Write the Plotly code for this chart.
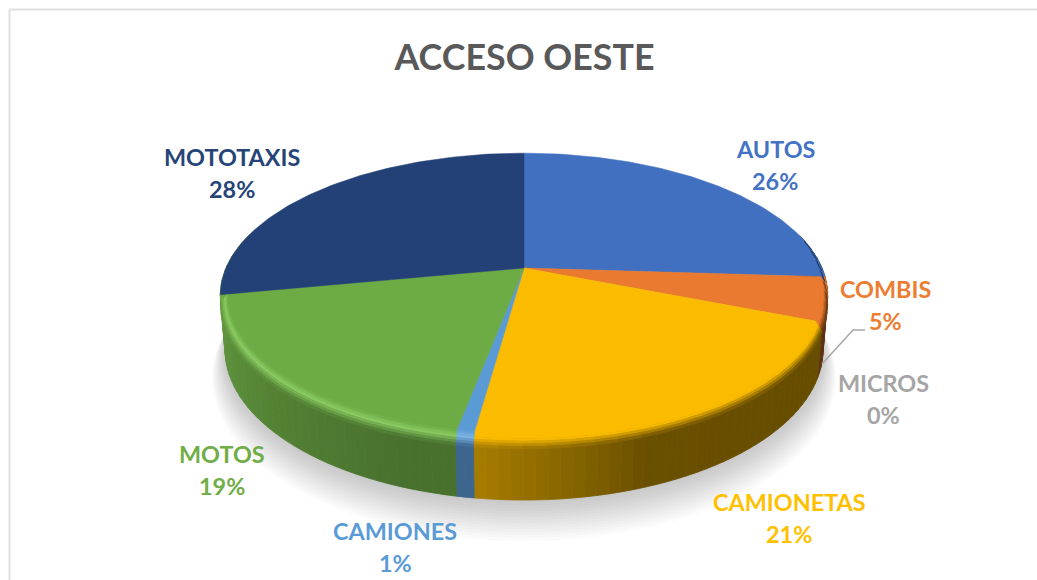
import numpy as np
import plotly.graph_objects as go

# ---- data ----
TITLE = "ACCESO OESTE"
categories = ["AUTOS", "COMBIS", "MICROS", "CAMIONETAS", "CAMIONES", "MOTOS", "MOTOTAXIS"]
values = [26, 5, 0, 21.2, 0.8, 19, 28]

# ---- styles ----
face_colors = ["#4270C0", "#E97A30", "#A5A5A5", "#FBBC00", "#5B9BD5", "#6DAB45", "#234176"]
label_colors = ["#4472C4", "#ED7D31", "#A5A5A5", "#FFC000", "#5B9BD5", "#70AD47", "#264478"]
rim_colors = ["#4270C0", "#E97A30", "#A5A5A5", "#FBBC00", "#7DB5E6", "#8ACB62", "#2B4C86"]
label_pos = {"AUTOS": (775, 165), "COMBIS": (885, 305), "MICROS": (883, 399),
             "CAMIONETAS": (789, 518), "CAMIONES": (395, 547), "MOTOS": (222, 470),
             "MOTOTAXIS": (232, 173)}
FONT = "Lato"
CX, CY, A, B, K = 524.0, 268.0, 298.0, 137.0, 0.193   # projection of the pie disc
WALL_H = 53.0
shade_t = [0, 90, 160, 187, 200, 259, 275, 360]
shade_f = [.5, .40, .42, .66, .66, .88, .85, .5]


def project(r, t, z=0.0, scale=1.0):
    t = np.radians(t)
    X, Y = r * np.sin(t) * scale, r * np.cos(t) * scale
    w = 1 + K * Y
    return CX + A * X / w, CY - B * Y / w + z / w


def rgb(h):
    return np.array([int(h[i:i + 2], 16) for i in (1, 3, 5)], float)


def hexc(c):
    return "#%02x%02x%02x" % tuple(int(round(v)) for v in np.clip(c, 0, 255))


def poly(fig, x, y, color, line=0.8):
    fig.add_trace(go.Scatter(x=list(x) + [x[0]], y=list(y) + [y[0]], mode="lines", fill="toself",
                             fillcolor=color, line=dict(color=color, width=line),
                             hoverinfo="skip", showlegend=False))


fig = go.Figure()
edges = np.concatenate([[0], np.cumsum(values)]) / sum(values) * 360.0

# soft shadow below the disc
ring = np.arange(0, 361, 4.0)
for i in range(14):
    g = 1.0 + 0.0032 * (13 - i)
    x, y = project(1.0, ring, WALL_H + 2 + 1.8 * (13 - i), scale=g * 0.985)
    poly(fig, x, y, "rgba(70,70,70,0.022)", line=0)

# side wall, painted as narrow strips (the far-left sliver keeps the colour of the slice in front)
STEP = 2.0
for j, v in enumerate(values):
    if v == 0:
        continue
    t0, t1 = edges[j], edges[j + 1]
    n = max(1, int(np.ceil((t1 - t0) / STEP)))
    ts = np.linspace(t0, t1, n + 1)
    wall_j = j - 1 if categories[j] == "MOTOTAXIS" else j
    for a, b in zip(ts[:-1], ts[1:]):
        m = (a + b) / 2
        if np.cos(np.radians(m)) > 0.25:
            continue
        col = rgb(face_colors[wall_j]) * np.interp(m, shade_t, shade_f)
        xt, yt = project(1.0, np.array([a, b]))
        xb, yb = project(1.0, np.array([b, a]), WALL_H, scale=0.985)
        poly(fig, list(xt) + list(xb), list(yt) + list(yb), hexc(col))

# top face wedges
for j, v in enumerate(values):
    if v == 0:
        continue
    ts = np.linspace(edges[j], edges[j + 1], max(3, int(edges[j + 1] - edges[j]) + 2))
    x, y = project(1.0, ts)
    poly(fig, [CX] + list(x), [CY] + list(y), face_colors[j], line=0.5)

# bevelled rim on the near side
BANDS = 6
STEP_R = 4.0
for j, v in enumerate(values):
    if v == 0 or categories[j] == "MOTOTAXIS":
        continue
    t0, t1 = edges[j], edges[j + 1]
    n = max(1, int(np.ceil((t1 - t0) / STEP_R)))
    ts = np.linspace(t0, t1, n + 1)
    for a, b in zip(ts[:-1], ts[1:]):
        m = (a + b) / 2
        s = float(np.clip((0.2 - np.cos(np.radians(m))) / 0.4, 0, 1))
        if s <= 0:
            continue
        wall = rgb(face_colors[j]) * np.interp(m, shade_t, shade_f)
        for q in range(BANDS):
            u0, u1 = q / BANDS, (q + 1) / BANDS
            um = (u0 + u1) / 2
            if um < 0.4:
                col = rgb(face_colors[j]) + (rgb(rim_colors[j]) - rgb(face_colors[j])) * um / 0.4
            else:
                col = rgb(rim_colors[j]) + (wall - rgb(rim_colors[j])) * (um - 0.4) / 0.6
            sa = np.array([a, b])
            xi, yi = project(1 - 0.022 * s * (1 - u0), sa, 9 * s * u0)
            xo, yo = project(1 - 0.022 * s * (1 - u1), sa[::-1], 9 * s * u1)
            poly(fig, list(xi) + list(xo), list(yi) + list(yo), hexc(col), line=0.6)

# leader line of the MICROS label
fig.add_trace(go.Scatter(x=[822, 853, 865], y=[364, 330, 330], mode="lines",
                         line=dict(color="#A6A6A6", width=1.5), hoverinfo="skip", showlegend=False))

# labels: name above, share below
total = sum(values)
for name, v, c in zip(categories, values, label_colors):
    px, py = label_pos[name]
    for text, dy in ((name, -16), (f"{round(100 * v / total)}%", 16)):
        fig.add_annotation(x=px, y=py + dy, xref="x", yref="y", showarrow=False, align="center",
                           text=f"<b>{text}</b>", font=dict(family=FONT, size=23.4, color=c))

fig.update_layout(
    width=1037, height=580, margin=dict(l=0, r=0, t=0, b=0),
    paper_bgcolor="white", plot_bgcolor="white", showlegend=False,
    title=dict(text=f"<b>{TITLE}</b>", x=524.5 / 1037, y=1 - 57 / 580, xanchor="center", yanchor="middle",
               font=dict(family=FONT, size=35.8, color="#595959")),
    xaxis=dict(range=[0, 1037], visible=False, fixedrange=True),
    yaxis=dict(range=[580, 0], visible=False, fixedrange=True),
    shapes=[
        dict(type="line", xref="x", yref="y", x0=9.5, x1=9.5, y0=9.5, y1=580, line=dict(color="#E0E0E0", width=2)),
        dict(type="line", xref="x", yref="y", x0=9.5, x1=1037, y0=9.5, y1=9.5, line=dict(color="#E0E0E0", width=2)),
    ],
)
fig.write_html("out.html", config=dict(displayModeBar=False),
               post_script="document.body.style.margin='0';document.documentElement.style.overflow='hidden';")
